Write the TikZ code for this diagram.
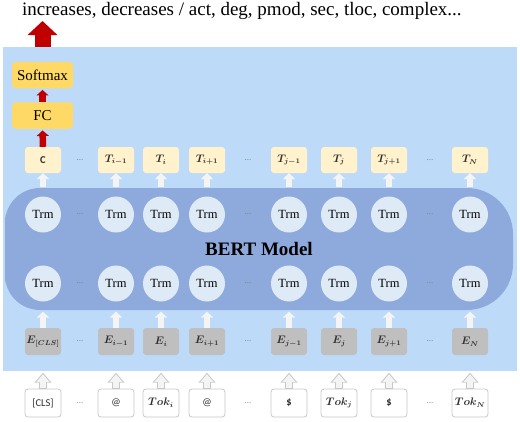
\documentclass[tikz,border=0pt]{standalone}
\usepackage{fontspec}
\setmainfont{Liberation Serif}
\newfontfamily\calfont{Carlito}
\usetikzlibrary{arrows.meta}
\definecolor{bgblue}{HTML}{BDDBF9}
\definecolor{bertblue}{HTML}{8EA9DB}
\definecolor{trmfill}{HTML}{DEEBF7}
\definecolor{tfill}{HTML}{FFF2CC}
\definecolor{goldfill}{HTML}{FFD966}
\definecolor{egray}{HTML}{BFBFBF}
\definecolor{redarr}{HTML}{C00000}
\definecolor{tokline}{HTML}{C8C8C8}
\definecolor{arrwhite}{HTML}{F4F4F4}
\definecolor{labelgray}{HTML}{303030}
\begin{document}
\begin{tikzpicture}[x=1pt,y=-1pt,
  tbox/.style={fill=tfill, rounded corners=3pt, minimum width=36pt, minimum height=26pt, inner sep=0pt, font=\fontsize{10.5}{12}\selectfont\boldmath, text=labelgray},
  ebox/.style={fill=egray, rounded corners=3pt, minimum width=36pt, minimum height=27pt, inner sep=0pt, font=\fontsize{10.5}{12}\selectfont\boldmath, text=labelgray},
  kbox/.style={draw=tokline, line width=0.8pt, fill=white, rounded corners=3pt, minimum width=36pt, minimum height=28pt, inner sep=0pt, font=\fontsize{10.5}{12}\selectfont\boldmath, text=labelgray},
  gbox/.style={fill=goldfill, rounded corners=4pt, minimum width=61pt, minimum height=26.5pt, inner sep=0pt, font=\fontsize{15}{17}\selectfont},
  trm/.style={circle, fill=trmfill, minimum size=36pt, inner sep=0pt, font=\fontsize{12.5}{14}\selectfont},
  dotlbl/.style={inner sep=0pt, text=gray, font=\fontsize{9}{10}\selectfont},
  warr/.style={line width=6.5pt, draw=arrwhite, -{Triangle[length=6pt,width=12.5pt]}},
  rarr/.style={line width=6.5pt, draw=redarr, -{Triangle[length=5.5pt,width=12pt]}},
  bigrarr/.style={line width=16pt, draw=redarr, -{Triangle[length=14pt,width=29pt]}},
  larrout/.style={line width=8.5pt, draw=tokline, -{Triangle[length=10pt,width=16.5pt]}},
  larrin/.style={line width=6.5pt, draw=arrwhite, -{Triangle[length=8pt,width=13pt]}}
]
\useasboundingbox (0,0) rectangle (520,421);
% backgrounds
\fill[bgblue] (3,47) rectangle (517,371);
\fill[bertblue] (5,249) [rounded corners=35pt] -- (5,188) -- (260,188) [rounded corners=46pt] -- (513,188) -- (513,310) -- (260,310) [rounded corners=35pt] -- (5,310) -- cycle;
% title
\node[anchor=base west, inner sep=0pt, font=\fontsize{19}{22}\selectfont] (title) at (22,15) {increases, decreases / act, deg, pmod, sec, tloc, complex...};
\coordinate (out) at (42.5,21);
% head
\node[gbox] (sm) at (42.5,75) {Softmax};
\node[gbox] (fc) at (42.5,115.5) {FC};
% columns
\foreach \x/\tl/\el/\kl [count=\i] in {
  43/{\calfont\bfseries C}/{$E_{[CLS]}$}/{\calfont [CLS]},
  116/{$T_{i-1}$}/{$E_{i-1}$}/{\calfont @},
  161/{$T_i$}/{$E_i$}/{$Tok_i$},
  207/{$T_{i+1}$}/{$E_{i+1}$}/{\calfont @},
  289/{$T_{j-1}$}/{$E_{j-1}$}/{\calfont\bfseries \$},
  339/{$T_j$}/{$E_j$}/{$Tok_j$},
  389/{$T_{j+1}$}/{$E_{j+1}$}/{\calfont\bfseries \$},
  470/{$T_N$}/{$E_N$}/{$Tok_N$}} {
  \node[tbox] (t\i) at (\x,160) {\tl};
  \node[trm] (a\i) at (\x,214.5) {Trm};
  \node[trm] (b\i) at (\x,283.5) {Trm};
  \node[ebox] (e\i) at (\x,341.5) {\el};
  \node[kbox] (k\i) at (\x,403) {\kl};
  \draw[warr, shorten <=9.5pt] (a\i.north) -- (t\i.south);
  \draw[warr, shorten >=10pt] (e\i.north) -- (b\i.south);
  \draw[larrout, shorten >=17.5pt] (k\i.north) -- (e\i.south);
  \draw[larrin, shorten >=19pt, shorten <=0.4pt] (k\i.north) -- (e\i.south);
}
% dots
\foreach \x [count=\j] in {80,248,430} {
  \foreach \y [count=\r] in {160,214.5,283.5,341.5,403} {
    \node[dotlbl] (d\j\r) at (\x,\y) {...};
  }
}
% red arrows
\draw[rarr, shorten >=1.5pt] (t1.north) -- (fc.south);
\draw[rarr, shorten >=1.5pt] (fc.north) -- (sm.south);
\draw[bigrarr, shorten <=14.5pt] (sm.north) -- (out);
% BERT label
\node[inner sep=0pt, font=\fontsize{19}{22}\selectfont\bfseries] (bert) at (259,249) {BERT Model};
\end{tikzpicture}
\end{document}
